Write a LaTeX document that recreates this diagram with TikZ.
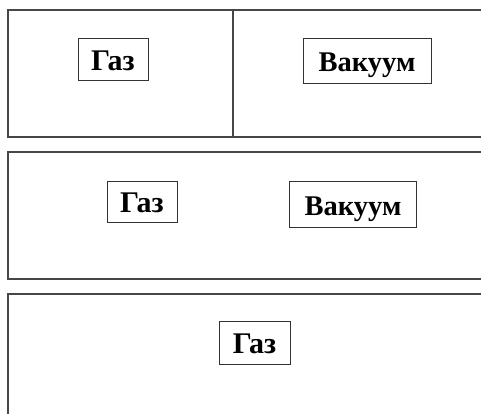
\documentclass[tikz,border=0pt]{standalone}
\usepackage{fontspec}
\setmainfont{Liberation Serif}
\begin{document}
\begin{tikzpicture}[x=1pt,y=-1pt,
  frame/.style={draw=black!72, line width=1.1pt},
  lbl/.style={draw=black!80, line width=0.9pt, inner sep=0pt, text height=22pt, text depth=0pt,
    font=\fontsize{30}{33}\selectfont\bfseries, align=center},
  wide/.style={font=\fontsize{28.5}{32}\selectfont\bfseries}]
\useasboundingbox[fill=white] (0,0) rectangle (481,414);
% box 1
\draw[frame] (481,10) -- (8,10) -- (8,137) -- (481,137);
\draw[frame] (233,10) -- (233,137);
\node[lbl, minimum width=70pt, minimum height=42pt] (g1) at (113,59.5) {Газ};
\node[lbl, wide, minimum width=128pt, minimum height=45pt] (v1) at (367,60.5) {Вакуум};
% box 2
\draw[frame] (481,152) -- (8,152) -- (8,279) -- (481,279);
\node[lbl, minimum width=70pt, minimum height=41pt] (g2) at (142,201.5) {Газ};
\node[lbl, wide, minimum width=127pt, minimum height=46pt] (v2) at (353,204) {Вакуум};
% box 3
\draw[frame] (481,294) -- (8,294) -- (8,414);
\node[lbl, minimum width=71pt, minimum height=43pt] (g3) at (254.5,342.5) {Газ};
\end{tikzpicture}
\end{document}
